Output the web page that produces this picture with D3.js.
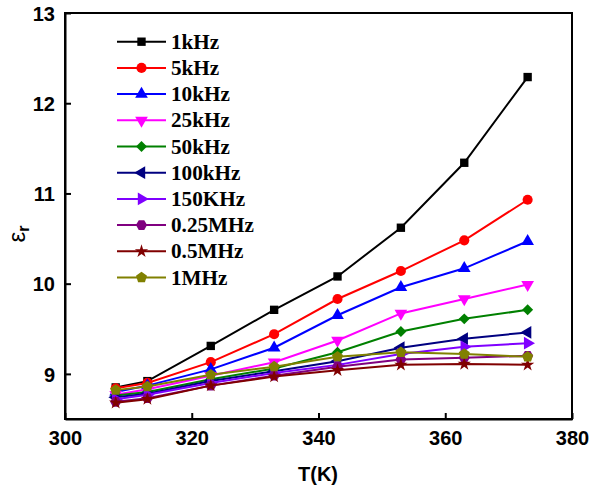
<!DOCTYPE html>
<html><head><meta charset="utf-8">
<script src="https://cdn.jsdelivr.net/npm/d3@7"></script>
<style>body{margin:0;background:#fff}svg{display:block}</style>
</head><body>
<script>
const temps = [308, 313, 323, 333, 343, 353, 363, 373];
const seriesNames = ["1kHz","5kHz","10kHz","25kHz","50kHz","100kHz","150KHz","0.25MHz","0.5MHz","1MHz"];
const s1k   = [8.85, 8.92, 9.31, 9.71, 10.08, 10.62, 11.34, 12.29];
const s5k   = [8.84, 8.90, 9.13, 9.44, 9.83, 10.14, 10.48, 10.93];
const s10k  = [8.80, 8.87, 9.05, 9.29, 9.65, 9.96, 10.17, 10.47];
const s25k  = [8.77, 8.83, 8.98, 9.13, 9.37, 9.67, 9.83, 9.99];
const s50k  = [8.76, 8.80, 8.94, 9.06, 9.24, 9.47, 9.61, 9.71];
const s100k = [8.74, 8.78, 8.92, 9.03, 9.14, 9.29, 9.39, 9.46];
const s150k = [8.72, 8.77, 8.90, 9.01, 9.10, 9.22, 9.30, 9.34];
const s250k = [8.69, 8.73, 8.87, 8.98, 9.08, 9.16, 9.18, 9.20];
const s500k = [8.68, 8.72, 8.87, 8.97, 9.04, 9.10, 9.11, 9.10];
const s1M   = [8.82, 8.86, 8.99, 9.08, 9.19, 9.24, 9.22, 9.19];
const seriesValues = [s1k, s5k, s10k, s25k, s50k, s100k, s150k, s250k, s500k, s1M];
const xTicks = [300, 320, 340, 360, 380];
const yTicks = [9, 10, 11, 12, 13];

const colors = ["#000000","#ff0000","#0000ff","#ff00ff","#008000","#000080","#7f00ff","#800080","#800000","#808000"];

function poly(n, rot) {
  return { draw(ctx, size) {
    const r = Math.sqrt(size / (n * 0.5 * Math.sin(2 * Math.PI / n)));
    for (let i = 0; i < n; i++) {
      const a = rot + i * 2 * Math.PI / n;
      const x = r * Math.cos(a), y = r * Math.sin(a);
      if (i === 0) ctx.moveTo(x, y); else ctx.lineTo(x, y);
    }
    ctx.closePath();
  }};
}
const symbolDefs = [
  {t: d3.symbolSquare, s: 70, r: 0},
  {t: d3.symbolCircle, s: 80, r: 0},
  {t: d3.symbolTriangle, s: 70, r: 0},
  {t: d3.symbolTriangle, s: 70, r: 180},
  {t: d3.symbolSquare, s: 60, r: 45},
  {t: d3.symbolTriangle, s: 70, r: -90},
  {t: d3.symbolTriangle, s: 70, r: 90},
  {t: poly(6, 0), s: 80, r: 0},
  {t: d3.symbolStar, s: 55, r: 0},
  {t: poly(5, -Math.PI / 2), s: 80, r: 0}
];

const W = 592, H = 491;
const svg = d3.select("body").append("svg").attr("width", W).attr("height", H);
const x = d3.scaleLinear().domain([300, 380]).range([65, 572]);
const y = d3.scaleLinear().domain([8.5, 13]).range([419, 13]);

// frame
svg.append("rect").attr("x", 65).attr("y", 13).attr("width", 572 - 65).attr("height", 419 - 13)
  .attr("fill", "none").attr("stroke", "#000").attr("stroke-width", 2);

const xAxis = svg.append("g").attr("transform", "translate(0,419)")
  .call(d3.axisBottom(x).tickValues(xTicks).tickFormat(d3.format("d")).tickSizeInner(-6).tickSizeOuter(0).tickPadding(12));
const yAxis = svg.append("g").attr("transform", "translate(65,0)")
  .call(d3.axisLeft(y).tickValues(yTicks).tickFormat(d3.format("d")).tickSizeInner(-6).tickSizeOuter(0).tickPadding(10));
[xAxis, yAxis].forEach(g => {
  g.select(".domain").attr("stroke", "#000").attr("stroke-width", 2);
  g.selectAll(".tick line").attr("stroke", "#000").attr("stroke-width", 2);
  g.selectAll(".tick text").attr("fill", "#000")
    .style("font-family", "'Liberation Sans', Arial, sans-serif")
    .style("font-weight", "bold").style("font-size", "20px");
});
yAxis.selectAll(".tick text").attr("dy", "0.36em");

// axis titles
svg.append("text").attr("x", 318).attr("y", 481).attr("text-anchor", "middle")
  .style("font-family", "'Liberation Sans', Arial, sans-serif").style("font-weight", "bold")
  .style("font-size", "20px").text("T(K)");
const yt = svg.append("text").attr("transform", "translate(25,234) rotate(-90)").attr("text-anchor", "middle")
  .style("font-family", "'Liberation Sans', Arial, sans-serif").style("font-size", "24px");
yt.append("tspan").text("ε");
yt.append("tspan").attr("dy", "4").style("font-size", "16px").style("font-weight", "bold").text("r");

// series
const line = d3.line().x((d, i) => x(temps[i])).y(d => y(d));
seriesValues.forEach((vals, k) => {
  const g = svg.append("g");
  g.append("path").attr("d", line(vals)).attr("fill", "none")
    .attr("stroke", colors[k]).attr("stroke-width", 2);
  const sd = symbolDefs[k];
  g.selectAll("path.m").data(vals).enter().append("path").attr("class", "m")
    .attr("d", d3.symbol().type(sd.t).size(sd.s))
    .attr("transform", (d, i) => `translate(${x(temps[i])},${y(d)}) rotate(${sd.r})`)
    .attr("fill", colors[k]);
});

// legend
const lg = svg.append("g");
seriesNames.forEach((name, k) => {
  const cy = 41.7 + k * 26.2;
  lg.append("line").attr("x1", 117).attr("x2", 166).attr("y1", cy).attr("y2", cy)
    .attr("stroke", colors[k]).attr("stroke-width", 2);
  const sd = symbolDefs[k];
  lg.append("path").attr("d", d3.symbol().type(sd.t).size(sd.s))
    .attr("transform", `translate(141.5,${cy}) rotate(${sd.r})`).attr("fill", colors[k]);
  lg.append("text").attr("transform", `translate(171,${cy + 7}) scale(1.06,1)`)
    .style("font-family", "'Liberation Serif', 'Times New Roman', serif").style("font-weight", "bold")
    .style("font-size", "20px").attr("fill", "#000").text(name);
});
</script>
</body></html>
